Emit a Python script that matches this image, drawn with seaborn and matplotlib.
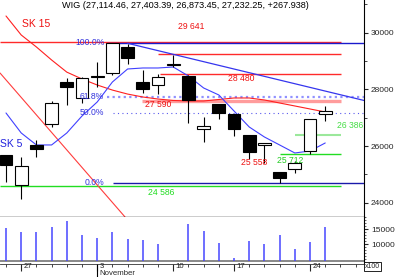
import numpy as np
import pandas as pd
import matplotlib
matplotlib.use("Agg")
import matplotlib.pyplot as plt
import matplotlib.transforms as mtransforms
from matplotlib.ticker import MultipleLocator
import seaborn as sns

# ---------------- data ----------------
opens  = [25690, 24630, 26040, 26780, 28270, 27690, 28430, 28570, 29485, 28270, 28155,
          28870, 28480, 26600, 27485, 27120, 26390, 26045, 25095, 25180, 25840, 27114.46]
highs  = [25700, 25630, 26215, 27590, 28400, 28450, 28970, 29641, 29600, 28685, 28545,
          29210, 28490, 27015, 27500, 27130, 26400, 26100, 25100, 25475, 26960, 27403.39]
lows   = [24745, 24120, 25630, 26685, 27450, 27530, 28095, 28500, 28885, 27885, 27830,
          28780, 26805, 26155, 26945, 26355, 25558, 25395, 24690, 25040, 25712, 26873.45]
closes = [25330, 25300, 25900, 27510, 28095, 28390, 28460, 29620, 29100, 28005, 28450,
          28890, 27626, 26710, 27160, 26605, 25805, 26095, 24865, 25395, 26955, 27232.25]
volumes = [15333, 14200, 14200, 15867, 17767, 13100, 12200, 14000, 11767, 11433, 10100,
           np.nan, 16767, 14433, 10433, 5533, 11100, 10100, 13100, 8433, 10767, 15867]
sk5  = [27168, 26463, 26040, 26040, 26463, 27062, 27556, 28261, 28720, 28755, 28755,
        28790, 28473, 28050, 27803, 27238, 26674, 26321, 26040, 25757, 25828, 26110]
sk15 = [30589, 29919, 29496, 29037, 28609, 28367, 28155, 27976, 27835, 27732, 27660,
        27609, 27591, 27591, 27644, 27697, 27697, 27626, 27520, 27415, 27309, 27203]

date_ticks = [1, 6, 11, 15, 20]
date_labels = ["27", "3", "10", "17", "24"]
month_label = "November"
title = "WIG (27,114.46, 27,403.39, 26,873.45, 27,232.25, +267.938)"

fib_levels = [29626, 27740, 27157, 24688]
fib_labels = ["100.0%", "61.8%", "50.0%", "0.0%"]

red_levels = [29683, 29238, 28530]
red_starts = [-0.395, 10.0, 10.13]
pink_level = 27600
green_levels = [24586, 25712]
green_starts = [-0.395, 18.03]
lgreen_level = 26386

red_trend = ([-0.395, 7.83], [28579, 23499])
blue_trend = ([8.0, 23.55], [29626, 27610])

idx = np.arange(len(opens))
df = pd.DataFrame({"i": idx, "sk5": sk5, "sk15": sk15})

# ---------------- style ----------------
sns.set_style("white")
plt.rcParams["font.family"] = ["Liberation Sans", "DejaVu Sans"]

fig = plt.figure(figsize=(4, 2.77), dpi=100)
W, H = 400, 277
ax = fig.add_axes([0, 1 - 217 / H, 364 / W, 217 / H])
axv = fig.add_axes([0, 1 - 264 / H, 364 / W, 47 / H])

XL = (-0.395, 23.55)
XR = 22.04  # right end of level lines

# ---------------- main panel ----------------
ax.set_xlim(*XL)
ax.set_ylim(23499, 31153)

# horizontal levels
for lvl, st in zip(red_levels, red_starts):
    ax.hlines(lvl, st, XR, color="#ff2a2a", lw=1.0, zorder=2)
ax.hlines(pink_level, 8.95, XR, color="#ff9c9c", lw=2.4, zorder=1.5)
for lvl, st in zip(green_levels, green_starts):
    ax.hlines(lvl, st, XR, color="#22dd22", lw=1.0, zorder=2)
ax.hlines(lgreen_level, 19.0, XR, color="#9be89b", lw=1.5, zorder=2)

# fibonacci
ax.hlines(fib_levels[0], 6.64, XL[1], color="#1a1acc", lw=1.0, zorder=2)
ax.hlines(fib_levels[1], 6.64, XL[1], color="#9090ff", lw=1.6, ls=(0, (1, 1.5)), zorder=2)
ax.hlines(fib_levels[2], 7.04, XL[1], color="#5a5aee", lw=0.8, ls=(0, (1, 3)), zorder=2)
ax.hlines(fib_levels[3], 7.04, XL[1], color="#1a1aaa", lw=1.0, zorder=2)
for lvl, lab, xs in zip(fib_levels, fib_labels, [4.54, 4.87, 4.87, 5.2]):
    ax.text(xs, lvl + 25, lab, color="#3333dd", fontsize=6.2, va="center", ha="left", zorder=6)

# trend lines
ax.plot(red_trend[0], red_trend[1], color="#ff3c3c", lw=0.8, zorder=2.5)
ax.plot(blue_trend[0], blue_trend[1], color="#3535ee", lw=0.9, zorder=2.5)

# moving averages
sns.lineplot(data=df, x="i", y="sk15", ax=ax, color="#ff2020", lw=0.8, zorder=2.6)
sns.lineplot(data=df, x="i", y="sk5", ax=ax, color="#4040ff", lw=0.8, zorder=2.6)

# candles
for i, (o, h, l, c) in enumerate(zip(opens, highs, lows, closes)):
    fc = "white" if c >= o else "black"
    ax.vlines(i, l, h, color="black", lw=0.8, zorder=3)
    ax.bar(i, max(abs(c - o), 20), bottom=min(o, c), width=0.85,
           facecolor=fc, edgecolor="black", lw=0.8, zorder=4)

# labels
ax.text(1.05, 30307, "SK 15", color="#ee1111", fontsize=7.5, va="center", ha="left")
ax.text(-0.39, 26075, "SK 5", color="#2222dd", fontsize=7.5, va="center", ha="left")
ax.text(11.3, 30201, "29 641", color="#ee1111", fontsize=6.2, va="center", ha="left")
ax.text(14.6, 28367, "28 480", color="#ee1111", fontsize=6.2, va="center", ha="left")
ax.text(9.14, 27470, "27 590", color="#ee1111", fontsize=6.2, va="center", ha="left", zorder=6)
ax.text(15.46, 25404, "25 558", color="#ee1111", fontsize=6.2, va="center", ha="left")
ax.text(17.83, 25475, "25 712", color="#22cc22", fontsize=6.2, va="center", ha="left")
ax.text(21.78, 26727, "26 386", color="#44dd44", fontsize=6.2, va="center", ha="left")
ax.text(9.34, 24346, "24 586", color="#22dd22", fontsize=6.2, va="center", ha="left")
ax.text(62 / 364, 1 - 6 / 217, title, transform=ax.transAxes, fontsize=6.6,
        va="center", ha="left", color="black")

ax.yaxis.tick_right()
ax.set_yticks([24000, 26000, 28000, 30000])
ax.yaxis.set_minor_locator(MultipleLocator(1000))
ax.tick_params(axis="y", which="major", direction="out", length=3, width=0.8,
               labelsize=6, pad=2, right=True, left=False)
ax.tick_params(axis="y", which="minor", direction="out", length=2, width=0.6, right=True, left=False)
ax.set_xticks([])
ax.set_xlabel("")
ax.set_ylabel("")
for s in ["top", "left"]:
    ax.spines[s].set_visible(False)
ax.spines["right"].set_color("black")
ax.spines["right"].set_linewidth(0.8)
ax.spines["bottom"].set_color("black")
ax.spines["bottom"].set_linewidth(1.0)

# ---------------- volume panel ----------------
base = 4530
axv.set_xlim(*XL)
axv.set_ylim(3433, 19100)
vi = [i for i, v in zip(idx, volumes) if not np.isnan(v)]
vv = [v for v in volumes if not np.isnan(v)]
axv.vlines(vi, base, vv, colors="#4646ff", lw=1.1, zorder=3)
axv.axhline(base, color="#888888", lw=1.4, zorder=2)

axv.yaxis.tick_right()
axv.set_yticks([10000, 15000])
axv.yaxis.set_minor_locator(MultipleLocator(1000))
axv.tick_params(axis="y", which="major", direction="out", length=3, width=0.8,
                labelsize=6, pad=2, right=True, left=False)
axv.tick_params(axis="y", which="minor", direction="out", length=1.5, width=0.5,
                right=True, left=False)
axv.set_xticks(date_ticks)
axv.set_xticklabels([])
axv.set_xticks(np.arange(0, 24), minor=True)
axv.tick_params(axis="x", which="major", direction="out", length=5, width=0.8, bottom=True)
axv.tick_params(axis="x", which="minor", direction="out", length=2, width=0.6, bottom=True)
for s in ["top", "left"]:
    axv.spines[s].set_visible(False)
axv.spines["right"].set_color("black")
axv.spines["right"].set_linewidth(0.8)
axv.spines["bottom"].set_color("#333333")
axv.spines["bottom"].set_linewidth(0.6)

trans = mtransforms.blended_transform_factory(axv.transData, axv.transAxes)
for t, lab in zip(date_ticks, date_labels):
    axv.text(t + 0.15, -0.045, lab, transform=trans, fontsize=5.6, va="center", ha="left")
axv.text(6 + 0.15, -0.2, month_label, transform=trans, fontsize=5.6, va="center", ha="left")
axv.plot([6, 6], [0, -0.3], transform=trans, color="black", lw=0.8, clip_on=False)

fig.text(365 / W, 1 - 266.5 / H, "x100", fontsize=5, va="center", ha="left",
         bbox=dict(boxstyle="square,pad=0.15", fc="white", ec="black", lw=0.6))

fig.savefig("out.png", dpi=100)
